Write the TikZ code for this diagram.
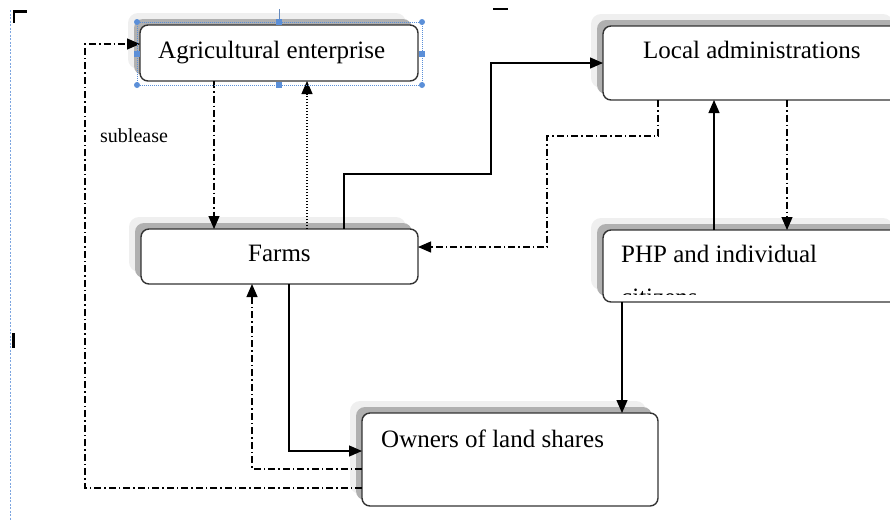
\documentclass[tikz,border=0pt]{standalone}
\usepackage{fontspec}
\setmainfont{Liberation Serif}
\usetikzlibrary{arrows.meta}
\definecolor{shlight}{HTML}{EFEFEF}
\definecolor{shdark}{HTML}{B0B0B0}
\definecolor{selblue}{HTML}{5B8FD8}
\tikzset{
  boxshape/.style={draw=black!80, line width=1.4pt, fill=white, rounded corners=8pt, inner sep=0pt, outer sep=0pt},
  lbl/.style={inner sep=0pt, font=\fontsize{25}{30}\selectfont},
  small/.style={inner sep=0pt, font=\fontsize{20}{24}\selectfont},
  conn/.style={line width=1.2pt, -{Triangle[length=13pt,width=11pt]}},
  dashdot/.style={dash pattern=on 7pt off 3pt on 1.5pt off 3pt},
  dotline/.style={dash pattern=on 1.5pt off 1.5pt},
}
\newcommand{\shbox}[5]{%
  \fill[shlight, rounded corners=10pt] (#2-12,#3-12) rectangle (#4-12,#5-12);
  \fill[shdark, rounded corners=9pt] (#2-6,#3-6) rectangle (#4-6,#5-6);
  \node[boxshape, minimum width=#4-#2, minimum height=#5-#3, anchor=north west] (#1) at (#2,#3) {};
}
\begin{document}
\begin{tikzpicture}[x=1pt,y=-1pt]
\useasboundingbox (0,0) rectangle (890,520);
\begin{scope}
\clip (0,0) rectangle (890,520);
% boxes with shadows
\shbox{agri}{140}{25}{418}{81}
\shbox{ladm}{603}{26}{905}{100}
\shbox{farms}{141}{229}{418}{284}
\shbox{php}{603}{230}{905}{302}
\shbox{owners}{362}{413}{658}{506}

% labels
\node[lbl, anchor=base west] (tagri) at (158,58) {Agricultural enterprise};
\node[lbl, anchor=base west] (tladm) at (643,58) {Local administrations};
\node[lbl, anchor=base west] (tfarms) at (248,261) {Farms};
\node[lbl, anchor=base west] (tphp) at (621,262) {PHP and individual};
\node[lbl, anchor=base west] (towners) at (381,447) {Owners of land shares};
\node[small, anchor=base west] (tsub) at (100,142) {sublease};
\begin{scope}
\clip (600,280) rectangle (720,294);
\node[lbl, anchor=base west] (tcit) at (621,305) {citizens};
\end{scope}

% connectors
\draw[conn, dashdot] (agri.south -| 214,0) -- (farms.north -| 214,0);
\draw[conn, dotline] (farms.north -| 307,0) -- (agri.south -| 307,0);
\draw[conn] (farms.north -| 344,0) -- (344,174) -- (491,174) -- (491,63) -- (ladm.west |- 0,63);
\draw[conn, dashdot] (ladm.south -| 658,0) -- (658,136) -- (547,136) -- (547,247) -- (farms.east |- 0,247);
\draw[conn] (php.north -| 714,0) -- (ladm.south -| 714,0);
\draw[conn, dashdot] (ladm.south -| 787,0) -- (php.north -| 787,0);
\draw[conn] (php.south -| 622,0) -- (owners.north -| 622,0);
\draw[conn] (farms.south -| 289,0) -- (289,451) -- (owners.west |- 0,451);
\draw[conn, dashdot] (owners.west |- 0,469) -- (252,469) -- (farms.south -| 252,0);
\draw[conn, dashdot] (owners.west |- 0,488) -- (85,488) -- (85,44) -- (agri.west |- 0,44);

% selection frame around the agricultural enterprise box
\draw[selblue, line width=0.6pt, dash pattern=on 1pt off 1pt] (137,22) rectangle (422,85);
\draw[selblue!70!gray, line width=0.8pt] (279,9) -- (279,22);
\foreach \p in {(137,22),(422,22),(137,85),(422,85)}
  \fill[selblue] \p circle (3pt);
\foreach \p in {(279,22),(279,85),(137,53.5),(422,53.5)}
  \fill[selblue] \p ++(-3,-3) rectangle ++(6,6);

% page marks
\draw[selblue!80, line width=0.8pt, dash pattern=on 2pt off 1.5pt] (10.5,10) -- (10.5,520);
\fill[black] (12.5,10) rectangle (15,23);
\fill[black] (12.5,10) rectangle (27,12.5);
\fill[black] (493,8.3) rectangle (508,10.3);
\fill[black] (12,333) rectangle (15,348);
\end{scope}
\end{tikzpicture}
\end{document}
